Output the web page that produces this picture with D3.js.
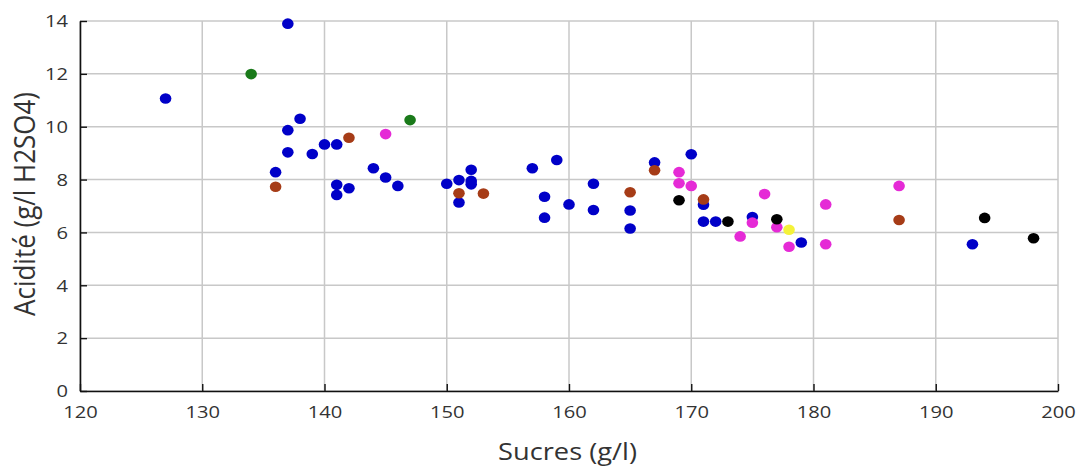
<!DOCTYPE html>
<html>
<head>
<meta charset="utf-8">
<script src="https://cdn.jsdelivr.net/npm/d3@7"></script>
<style>
  html, body { margin: 0; padding: 0; background: #fff; }
  svg { display: block; }
  .tick text { font-family: "Open Sans", "Noto Sans", sans-serif; font-size: 16px; fill: #333; }
  .title { font-family: "Open Sans", "Noto Sans", sans-serif; font-size: 24px; fill: #333; }
</style>
</head>
<body>
<svg id="chart" width="1079" height="468"></svg>
<script>
// Data: [sucres (g/l), acidité (g/l H2SO4)]
const blueSeries = [[127,11.07],[137,13.9],[138,10.3],[137,9.87],[137,9.03],[136,8.28],[139,8.97],[140,9.33],[141,9.33],[141,7.8],[142,7.67],[141,7.42],[144,8.43],[145,8.08],[146,7.76],[150,7.84],[151,7.98],[152,8.37],[152,7.95],[152,7.82],[151,7.13],[157,8.43],[159,8.74],[158,7.35],[158,6.56],[160,7.06],[162,7.84],[162,6.85],[165,6.83],[165,6.15],[167,8.65],[170,8.96],[171,7.05],[171,6.41],[172,6.41],[175,6.58],[179,5.62],[193,5.55]];
const brownSeries = [[136,7.73],[142,9.58],[151,7.48],[153,7.47],[165,7.52],[167,8.35],[171,7.25],[187,6.47]];
const greenSeries = [[134,11.99],[147,10.25]];
const magentaSeries = [[145,9.72],[169,8.28],[169,7.86],[170,7.76],[174,5.85],[175,6.37],[176,7.45],[177,6.2],[178,5.46],[181,7.06],[181,5.55],[187,7.76]];
const blackSeries = [[169,7.22],[173,6.41],[177,6.5],[194,6.55],[198,5.78]];
const yellowSeries = [[178,6.1]];

const xTicks = [120,130,140,150,160,170,180,190,200];
const yTicks = [0,2,4,6,8,10,12,14];
const xTitle = "Sucres (g/l)";
const yTitle = "Acidité (g/l H2SO4)";

const series = [
  {data: blueSeries, color: "#0000c8"},
  {data: brownSeries, color: "#a63c17"},
  {data: magentaSeries, color: "#e52ad6"},
  {data: blackSeries, color: "#000000"},
  {data: greenSeries, color: "#1a7a1a"},
  {data: yellowSeries, color: "#f4f23a"}
];

const svg = d3.select("#chart");
const W = 1079, H = 468;
const m = {left: 80, right: 21, top: 21, bottom: 77};
const stretch = 1.26; // horizontal stretch of the original picture's text

const x = d3.scaleLinear().domain([120, 200]).range([m.left, W - m.right]);
const y = d3.scaleLinear().domain([0, 14]).range([H - m.bottom, m.top]);

// grid
const grid = svg.append("g");
grid.selectAll(".gx").data(xTicks).join("line")
  .attr("x1", d => x(d)).attr("x2", d => x(d))
  .attr("y1", y(0)).attr("y2", y(14))
  .attr("stroke", "#c8c8c8").attr("stroke-width", 1.5);
grid.selectAll(".gy").data(yTicks).join("line")
  .attr("x1", x(120)).attr("x2", x(200))
  .attr("y1", d => y(d)).attr("y2", d => y(d))
  .attr("stroke", "#c8c8c8").attr("stroke-width", 1.5);

// axes
const xAxis = d3.axisBottom(x).tickValues(xTicks).tickSizeInner(-7).tickSizeOuter(0).tickPadding(16);
const yAxis = d3.axisLeft(y).tickValues(yTicks).tickSizeInner(-7).tickSizeOuter(0).tickPadding(12);

const gx = svg.append("g").attr("transform", `translate(0,${y(0)})`).call(xAxis);
const gy = svg.append("g").attr("transform", `translate(${x(120)},0)`).call(yAxis);
[gx, gy].forEach(g => {
  g.select(".domain").attr("stroke", "#111").attr("stroke-width", 1.6);
  g.selectAll(".tick line").attr("stroke", "#111").attr("stroke-width", 1.4);
});
gx.selectAll(".tick text").attr("transform", `scale(${stretch},1)`);
gy.selectAll(".tick text").attr("x", 0).attr("dy", "0.36em")
  .attr("transform", `translate(-12,0) scale(${stretch},1)`);

// points
series.forEach(s => {
  svg.append("g").selectAll("ellipse").data(s.data).join("ellipse")
    .attr("cx", d => x(d[0])).attr("cy", d => y(d[1]))
    .attr("rx", 5.8).attr("ry", 5.3).attr("fill", s.color);
});

// titles
const xt = svg.append("text").attr("class", "title")
  .attr("text-anchor", "middle").text(xTitle);
const xw = xt.node().getBBox().width;
xt.attr("transform", `translate(567.5,460) scale(${139 / xw},1)`);

const yt = svg.append("text").attr("class", "title")
  .attr("text-anchor", "middle").text(yTitle);
const yw = yt.node().getBBox().width;
const yFont = 24 * 224 / yw;
yt.style("font-size", yFont + "px")
  .attr("transform", `translate(35,204) scale(1.15,1) rotate(-90)`);
</script>
</body>
</html>
